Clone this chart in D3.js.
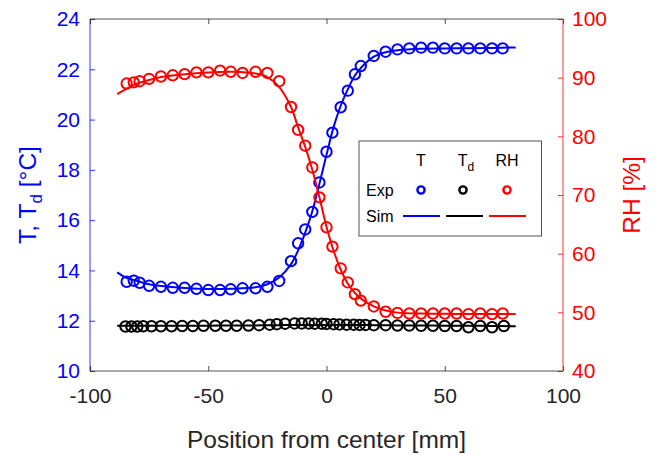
<!DOCTYPE html>
<html><head><meta charset="utf-8">
<script src="https://cdn.jsdelivr.net/npm/d3@7"></script>
<style>body{margin:0;background:#fff}svg{display:block;font-family:Arial,"Liberation Sans",sans-serif}</style>
</head><body><svg id="c" width="656" height="455"></svg>
<script>
// Experimental positions (mm)
const expX = [-84.5,-81.5,-79,-75,-70,-65,-60,-55,-50,-45,-40.5,-35.5,-30,-25,-20,-15,-12,-9,-6,-3,0,2.5,6,9,12,14.5,20,25,30,35,40,45,50,55,60,65,70,74.5];
const expT = [13.55,13.59,13.51,13.39,13.35,13.31,13.31,13.27,13.22,13.22,13.25,13.29,13.29,13.35,13.58,14.37,15.08,15.63,16.33,17.50,18.72,19.48,20.49,21.15,21.80,22.13,22.53,22.70,22.79,22.83,22.86,22.86,22.83,22.83,22.83,22.83,22.83,22.83];
const expRH = [89.0,89.2,89.4,89.8,90.2,90.4,90.6,90.9,90.9,91.2,91.0,90.8,91.0,90.8,89.4,85.0,81.1,78.4,74.7,69.6,64.5,61.2,57.5,55.1,53.1,52.0,51.0,50.1,49.9,49.8,49.8,49.8,49.8,49.8,49.7,49.8,49.7,49.8];
// Dew point measured at its own positions
const tdX = [-85,-82.5,-80,-77.5,-74,-70,-65.5,-61,-56.5,-52,-47,-42.5,-38,-33,-28.5,-24,-21,-17.5,-13.5,-10.5,-7.5,-5,-2,0,3,5.5,8.5,11.5,14,16.5,20,25,30,35,40,45,50,55,60,65,70,75];
const tdVals = [11.77,11.77,11.77,11.78,11.78,11.78,11.78,11.79,11.79,11.80,11.80,11.80,11.80,11.81,11.82,11.84,11.86,11.88,11.89,11.89,11.89,11.88,11.88,11.87,11.86,11.85,11.84,11.84,11.83,11.83,11.82,11.82,11.81,11.81,11.80,11.80,11.79,11.79,11.74,11.79,11.74,11.79];
// Simulation curves
const simX = [-88.5,-85,-80,-75,-70,-60,-50,-40,-30,-25,-20,-15,-12,-9,-6,-3,0,3,6,9,12,15,20,25,30,40,50,60,70,80];
const simT = [13.92,13.72,13.58,13.45,13.38,13.30,13.26,13.27,13.33,13.45,13.72,14.25,14.80,15.50,16.35,17.45,18.60,19.70,20.55,21.20,21.75,22.10,22.50,22.68,22.76,22.82,22.83,22.84,22.85,22.87];
const simTd = [11.80,11.80,11.80,11.80,11.80,11.80,11.80,11.81,11.81,11.82,11.82,11.83,11.83,11.83,11.83,11.83,11.83,11.83,11.83,11.83,11.83,11.83,11.82,11.82,11.81,11.81,11.80,11.80,11.79,11.78];
const simRH = [87.2,88.0,89.0,89.6,90.1,90.6,90.9,91.0,90.7,90.1,88.4,85.0,81.5,78.2,74.3,69.6,64.6,60.5,57.3,54.9,53.3,52.2,51.0,50.3,49.95,49.8,49.75,49.7,49.7,49.7];
const xTicks = [-100,-50,0,50,100];
const yTicks = [10,12,14,16,18,20,22,24];
const rhTicks = [40,50,60,70,80,90,100];

const L=90,R=563,T=19,B=371;
const svg=d3.select('#c');
const x=d3.scaleLinear().domain([-100,100]).range([L,R]);
const y=d3.scaleLinear().domain([10,24]).range([B,T]);
const yr=d3.scaleLinear().domain([40,100]).range([B,T]);
const AX='#262626', BLUE='#0000ff', RED='#ff0000';
const fmt=d=>String(d);

function style(g,color){
  g.selectAll('path.domain').remove();
  g.selectAll('line').attr('stroke',color).attr('stroke-width',0.8);
  g.selectAll('text').attr('fill',color).attr('font-size',21).attr('font-family','Arial,"Liberation Sans",sans-serif');
}
// bottom axis
const gx=svg.append('g').attr('transform',`translate(0,${B})`)
  .call(d3.axisBottom(x).tickValues(xTicks).tickSize(-5).tickSizeOuter(0).tickPadding(32).tickFormat(fmt));
style(gx,AX);
gx.selectAll('text').attr('dy','0');
// top ticks
const gt=svg.append('g').attr('transform',`translate(0,${T})`)
  .call(d3.axisTop(x).tickValues(xTicks).tickSize(-5).tickSizeOuter(0).tickFormat(''));
style(gt,AX);
// left
const gl=svg.append('g').attr('transform',`translate(${L},0)`)
  .call(d3.axisLeft(y).tickValues(yTicks).tickSize(-5).tickSizeOuter(0).tickPadding(10).tickFormat(fmt));
style(gl,BLUE);
const gr=svg.append('g').attr('transform',`translate(${R},0)`)
  .call(d3.axisRight(yr).tickValues(rhTicks).tickSize(-5).tickSizeOuter(0).tickPadding(9).tickFormat(fmt));
style(gr,RED);
// spines
svg.append('line').attr('x1',L).attr('x2',R).attr('y1',B).attr('y2',B).attr('stroke',AX).attr('stroke-width',0.8);
svg.append('line').attr('x1',L).attr('x2',R).attr('y1',T).attr('y2',T).attr('stroke',AX).attr('stroke-width',0.8);
svg.append('line').attr('x1',L).attr('x2',L).attr('y1',T).attr('y2',B).attr('stroke',BLUE).attr('stroke-width',0.8);
svg.append('line').attr('x1',R).attr('x2',R).attr('y1',T).attr('y2',B).attr('stroke',RED).attr('stroke-width',0.8);

// labels
svg.append('text').attr('x',(L+R)/2).attr('y',448).attr('text-anchor','middle').attr('font-size',24.5).attr('fill',AX).text('Position from center [mm]');
const yl=svg.append('text').attr('transform','translate(36,195) rotate(-90)').attr('text-anchor','middle').attr('font-size',24.5).attr('fill',BLUE);
yl.append('tspan').text('T, T');
yl.append('tspan').attr('font-size',17).attr('dy',6).text('d');
yl.append('tspan').attr('dy',-6).text(' [°C]');
svg.append('text').attr('transform','translate(640,195) rotate(-90)').attr('text-anchor','middle').attr('font-size',24.5).attr('fill',RED).text('RH [%]');

const line=d3.line().curve(d3.curveCatmullRom);
function drawSeries(xs,vals,ys,color,simVals){
  svg.append('path').attr('d',line(simX.map((d,i)=>[x(d),ys(simVals[i])]))).attr('fill','none').attr('stroke',color).attr('stroke-width',2);
  svg.append('g').selectAll('circle').data(xs).join('circle')
    .attr('cx',d=>x(d)).attr('cy',(d,i)=>ys(vals[i])).attr('r',5.2)
    .attr('fill','none').attr('stroke',color).attr('stroke-width',2);
}
drawSeries(expX,expT,y,BLUE,simT);
drawSeries(tdX,tdVals,y,'#000',simTd);
drawSeries(expX,expRH,yr,RED,simRH);

// legend
const lg=svg.append('g');
lg.append('rect').attr('x',359).attr('y',141).attr('width',182.5).attr('height',95).attr('fill','#fff').attr('stroke','#262626').attr('stroke-width',0.8);
const hdr=[['T',421],['T',463],['RH',507]];
hdr.forEach((h,i)=>{
  const t=lg.append('text').attr('x',h[1]).attr('y',166).attr('text-anchor','middle').attr('font-size',16).attr('fill','#000');
  t.append('tspan').text(h[0]);
  if(i===1){t.attr('x',h[1]+3);t.append('tspan').attr('font-size',12).attr('dy',5).text('d');}
});
lg.append('text').attr('x',366).attr('y',195.5).attr('font-size',16).attr('fill','#000').text('Exp');
lg.append('text').attr('x',366).attr('y',222).attr('font-size',16).attr('fill','#000').text('Sim');
[[421,BLUE,403,440],[463,'#000',446,483],[507,RED,489,526]].forEach(d=>{
  lg.append('circle').attr('cx',d[0]).attr('cy',190).attr('r',3.6).attr('fill','none').attr('stroke',d[1]).attr('stroke-width',2.4);
  lg.append('line').attr('x1',d[2]).attr('x2',d[3]).attr('y1',216).attr('y2',216).attr('stroke',d[1]).attr('stroke-width',1.8);
});
</script></body></html>
